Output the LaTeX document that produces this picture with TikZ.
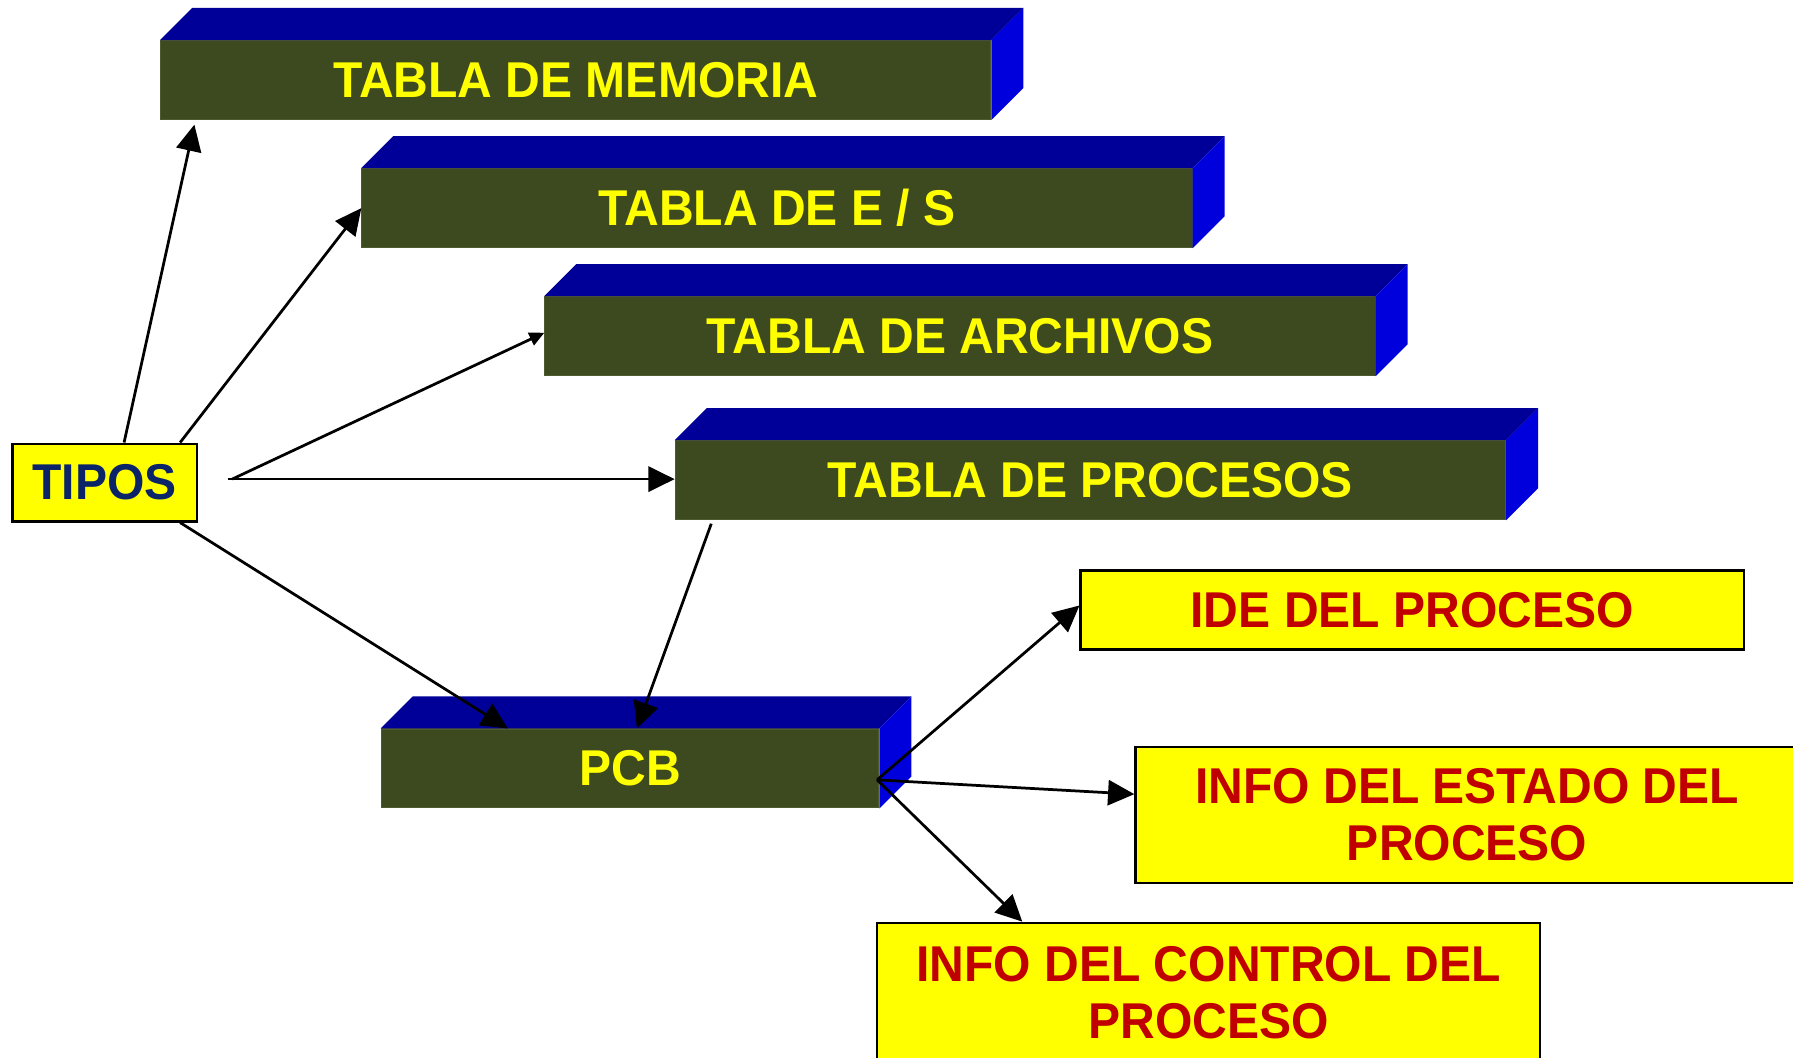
\documentclass[tikz,border=0pt]{standalone}
\usepackage{fontspec}
\setmainfont{Liberation Sans}[FakeStretch=0.955]
\usetikzlibrary{arrows.meta,calc}
\definecolor{oliva}{HTML}{3D4A20}
\definecolor{bordeoliva}{HTML}{4E5A30}
\definecolor{techo}{HTML}{000099}
\definecolor{lado}{HTML}{0000DD}
\definecolor{amarillo}{HTML}{FFFF00}
\definecolor{rojo}{HTML}{C00000}
\definecolor{marino}{HTML}{0B2468}
\tikzset{
  tabla/.style={draw=bordeoliva, line width=1pt, fill=oliva, text=amarillo,
    anchor=north west, minimum width=726, minimum height=69, inner sep=0pt,
    font=\fontsize{44}{50}\selectfont\bfseries},
  caja/.style={draw=black, line width=2pt, fill=amarillo, text=rojo,
    anchor=north west, minimum width=580, inner sep=0pt, align=center,
    font=\fontsize{44}{50}\selectfont\bfseries},
  flecha/.style={line width=2.4pt, -{Triangle[length=23pt,width=22pt]}},
}
\begin{document}
\begin{tikzpicture}[x=1pt,y=-1pt]
        \useasboundingbox (0,0) rectangle (1568,925);
        % Tablas del sistema
        \node[tabla] (memoria) at (140,35) {TABLA DE MEMORIA};
        \node[tabla] (es) at (316,147) {TABLA DE E / S};
        \node[tabla] (archivos) at (476,259) {TABLA DE ARCHIVOS};
        \node[tabla] (procesos) at (590,385) {TABLA DE PROCESOS};
        \node[tabla, minimum width=435] (pcb) at (333,637) {PCB};
        % Caras superior y lateral
        \foreach \t in {memoria,es,archivos,procesos,pcb} {
            \fill[techo] (\t.north west) -- ++(28,-28) -- ($(\t.north east)+(28,-28)$) -- (\t.north east) -- cycle;
            \fill[lado] (\t.north east) -- ++(28,-28) -- ($(\t.south east)+(28,-28)$) -- (\t.south east) -- cycle;
        }
        % Tipos
        \node[caja, text=marino, minimum width=161, minimum height=68] (tipos) at (10,387) {TIPOS};
        % Contenido del PCB
        \node[caja, minimum height=69] (ide) at (944,498) {IDE DEL PROCESO};
        \node[caja, minimum height=119] (estado) at (992,652) {INFO DEL ESTADO DEL\\PROCESO};
        \node[caja, minimum height=122] (control) at (766,806) {INFO DEL CONTROL DEL\\PROCESO};
        % Flechas
        \coordinate (salida) at ($(tipos.east)+(26,-3)$);
        \coordinate (nudo) at ($(pcb.east)+(-2,10)$);
        \draw[flecha] ($(tipos.north)+(17,0)$) -- ($(memoria.south west)+(30,4)$);
        \draw[flecha] ($(tipos.north)+(66,0)$) -- (es.west);
        \draw[line width=2.4pt, -{Triangle[length=13pt,width=12pt]}] ($(salida)+(4,0)$) -- ($(archivos.west)+(0,-3)$);
        \draw[flecha] (salida) -- (salida -| procesos.west);
        \draw[flecha] ($(tipos.south)+(66,0)$) -- ($(pcb.north west)+(111,0)$);
        \draw[flecha] ($(procesos.south west)+(32,3)$) -- ($(pcb.north west)+(224,0)$);
        \draw[flecha] (nudo) -- ($(ide.west)+(0,-4)$);
        \draw[flecha] (nudo) -- ($(estado.west)+(0,-18)$);
        \draw[flecha] (nudo) -- ($(control.north west)+(128,0)$);
\end{tikzpicture}
\end{document}
